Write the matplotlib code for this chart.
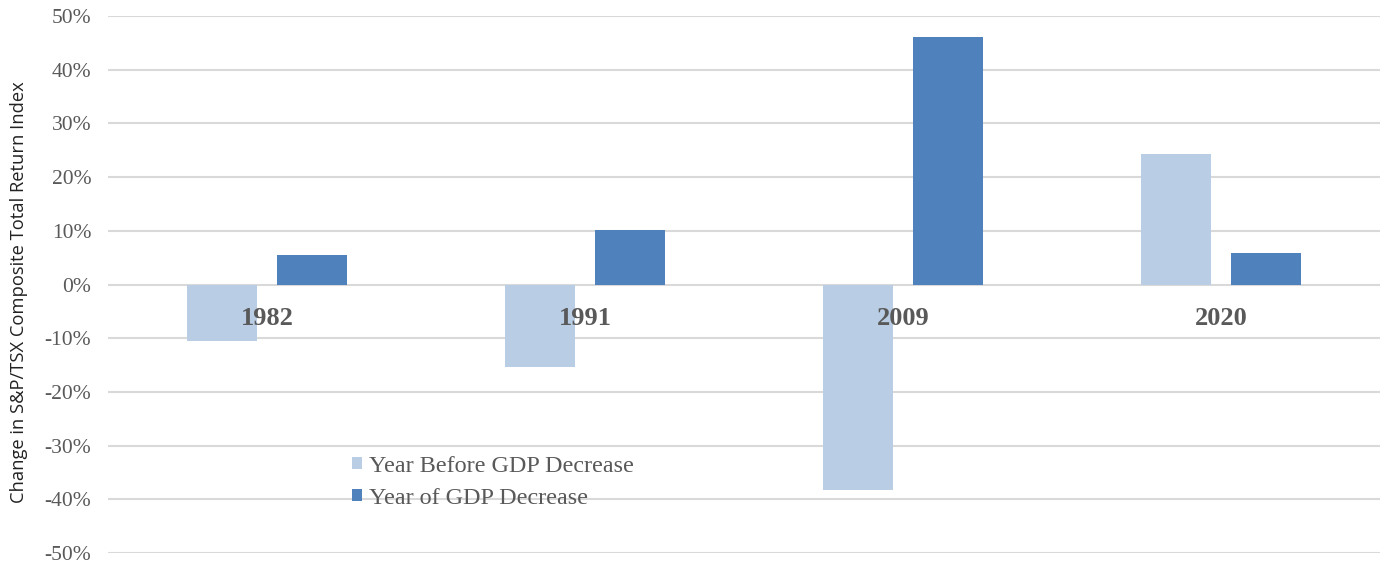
import matplotlib
matplotlib.use("Agg")
import matplotlib.pyplot as plt
import numpy as np

categories = ["1982", "1991", "2009", "2020"]
year_before = [-10.6, -15.4, -38.3, 24.3]
year_of = [5.5, 10.2, 46.0, 5.9]
series_names = ["Year Before GDP Decrease", "Year of GDP Decrease"]
yticks = [-50, -40, -30, -20, -10, 0, 10, 20, 30, 40, 50]

c_before = "#b9cde5"
c_of = "#4f81bd"
grey = "#595959"

fig = plt.figure(figsize=(13.82, 5.64), dpi=100)
ax = fig.add_axes([108/1382, 1-553/564, (1380-108)/1382, (553-16)/564])

x = np.arange(len(categories))
w = 0.22
gap = 0.063
ax.bar(x - (w+gap)/2, year_before, width=w, color=c_before, label=series_names[0], zorder=3)
ax.bar(x + (w+gap)/2, year_of, width=w, color=c_of, label=series_names[1], zorder=3)

ax.set_xlim(-0.5, len(categories)-0.5)
ax.set_ylim(-50, 50)
ax.set_yticks(yticks)
ax.set_yticklabels([f"{v}%" for v in yticks], family="Liberation Serif", fontsize=15.5, color=grey)
ax.yaxis.grid(True, color="#d9d9d9", linewidth=1.5, zorder=0)
ax.tick_params(axis="y", length=0, pad=12)
ax.set_xticks([])
for s in ax.spines.values():
    s.set_visible(False)

for xi, lab in zip(x, categories):
    ax.text(xi, -6.3, lab, ha="center", va="center", family="Liberation Serif",
            fontweight="bold", fontsize=19, color=grey, zorder=4)

ax.set_ylabel("Change in S&P/TSX Composite Total Return Index", family="Open Sans",
              fontsize=13.2, color="#222222")
ax.yaxis.set_label_coords((28-108)/1272, (553-292)/537)

leg = ax.legend(loc="upper left", bbox_to_anchor=((342-108)/1272, (553-446)/537),
                frameon=False, prop={"family": "Liberation Serif", "size": 17.4},
                handlelength=0.42, handleheight=0.42, handletextpad=0.3, labelspacing=0.45,
                borderaxespad=0)
for t in leg.get_texts():
    t.set_color(grey)

fig.savefig("out.png", dpi=100)
